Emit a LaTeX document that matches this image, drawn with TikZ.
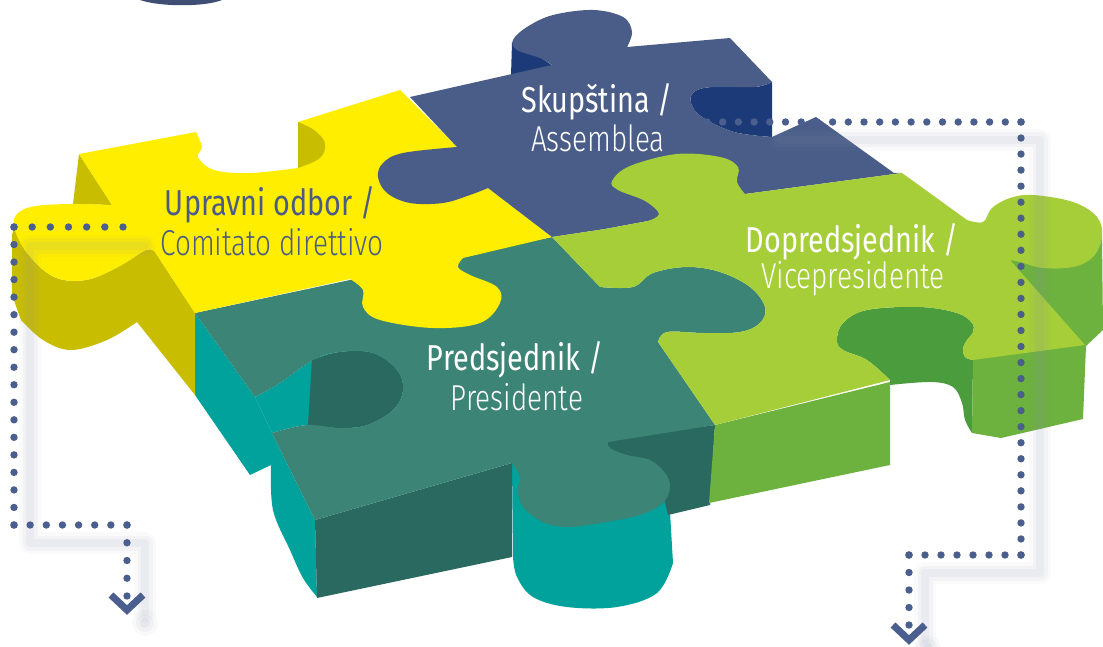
\documentclass[tikz,border=0pt]{standalone}
\usepackage{fontspec}
\newfontfamily\medf[FakeStretch=0.80]{Fira Sans}
\newfontfamily\lightf[FakeStretch=0.775]{Fira Sans Light}
\usetikzlibrary{calc}
\definecolor{ytop}{HTML}{FFEE00}
\definecolor{yside}{HTML}{C9BD00}
\definecolor{btop}{HTML}{4A5D88}
\definecolor{bside}{HTML}{1D3A78}
\definecolor{gtop}{HTML}{A6CE39}
\definecolor{gside}{HTML}{6DB13E}
\definecolor{ghole}{HTML}{4A9C3C}
\definecolor{ttop}{HTML}{3C8475}
\definecolor{tside}{HTML}{00A29B}
\definecolor{tdark}{HTML}{29695F}
\definecolor{dotc}{HTML}{4A5F8E}
\definecolor{txtb}{HTML}{4B5B86}
\definecolor{shad}{HTML}{8A93AE}
\newcommand\dotrow[5]{\foreach \i in {0,...,#5}{\fill[dotc] ($(#1,#2)!\i/#5!(#3,#4)$) circle[radius=3.7pt];}}
\tikzset{
  lineone/.style={font=\medf\fontsize{36}{42}\selectfont, anchor=base, inner sep=0pt},
  linetwo/.style={font=\lightf\fontsize{36}{42}\selectfont, anchor=base, inner sep=0pt},
  chev/.style={draw=dotc, line width=7pt, line join=miter},
  shadowline/.style={shad, line cap=round, line join=round},
  smo/.style={smooth, tension=0.6}
}
\begin{document}
\begin{tikzpicture}[x=1pt,y=-1pt]
\useasboundingbox (0,0) rectangle (1103,647);
\fill[white] (0,0) rectangle (1103,647);
\clip (0,0) rectangle (1103,647);
% top-left arc
\fill[btop!85!black] (140,0) .. controls (160,7) and (205,7) .. (222,0) -- cycle;
% ---------- side walls ----------
% teal
\fill[tside] (195,313) -- (255,397) -- (272,433) -- (315,520) -- (317,597) -- plot[smo] coordinates {(317,597) (303,578) (290,550) (273,510) (271,465)} -- (250,475) -- (195,395) -- cycle;
\fill[tside] plot[smo] coordinates {(255,397) (280,383) (313,360) (340,352) (373,353) (397,370) (403,390) (393,410) (367,425) (340,428) (307,425) (272,433)} -- cycle;
\fill[tdark] plot[smo] coordinates {(312,360) (340,352) (373,353) (397,370) (403,390) (393,410) (367,425) (340,428) (308,425)} -- cycle;
\fill[tside] (512,463) -- (668,478) -- (673,563) -- plot[smo] coordinates {(673,563) (657,593) (617,607) (567,607) (533,597) (517,577) (513,557)} -- cycle;
\fill[tdark] (315,520) -- (512,463) -- (512,557) -- (317,598) -- cycle;
\fill[tdark] (600,440) -- (715,425) -- (710,505) -- (668,515) -- (660,482) -- (600,475) -- cycle;
% yellow
\fill[yside] (79,154) -- (73,204) -- (112,205) -- cycle;
\fill[yside] plot[smo] coordinates {(14,227) (27,253) (54,277) (86,280) (118,267) (146,250) (155,252)} -- (195,313) -- (195,395) -- (137,322) -- plot[smo] coordinates {(137,322) (107,340) (71,350) (43,340) (21,320)} -- (12,295) -- (12,235) -- cycle;
% blue
\fill[bside] (512,42) -- (511,76) -- (553,66) -- (540,57) -- (520,49) -- cycle;
\fill[bside] plot[smo] coordinates {(772,82) (755,87) (712,87) (694,92) (691,103) (702,117) (734,132) (772,137)} -- cycle;
% green
\fill[gside] (715,425) -- (890,382) -- (890,465) -- (709,503) -- cycle;
\fill[ghole] (890,380) -- plot[smo] coordinates {(890,380) (867,360) (843,350) (837,340) (843,323) (867,310) (920,307) (957,313) (972,323) (973,332) (967,340) (963,348) (965,357) (973,360)} -- (972,433) -- plot[smo] coordinates {(972,433) (965,420) (962,403) (953,387) (931,382) (890,385)} -- cycle;
\fill[gside] (1010,258) -- (1102,237) -- (1103,330) -- (1086,346) -- (1083,419) -- (1001,438) -- (972,433) -- (973,360) -- cycle;
% ---------- top faces ----------
\fill[ttop] (195,313) -- (552,237) -- (600,287) -- plot[smo] coordinates {(600,287) (633,287) (653,273) (687,267) (720,272) (750,287) (765,307) (760,323) (740,332) (703,333) (667,332) (658,342)} -- (715,425) -- (608,442) -- plot[smo] coordinates {(608,442) (610,448) (627,455) (650,460) (665,473) (670,487) (663,503) (640,515) (600,523) (567,527) (543,522) (523,507) (518,490) (520,477) (512,463)} -- (315,520) -- (272,433) -- plot[smo] coordinates {(272,433) (307,425) (340,428) (367,425) (393,410) (403,390) (397,370) (373,353) (340,352) (313,360) (280,383) (255,397)} -- cycle;
\fill[ytop] (400,90) -- (457,147) -- (488,188) -- (552,237) -- (463,258) -- plot[smo] coordinates {(463,258) (458,267) (470,275) (497,287) (500,303) (480,323) (433,328) (380,320) (363,307) (363,290) (350,279)} -- (195,313) -- (155,252) -- plot[smo] coordinates {(155,252) (146,250) (118,267) (86,280) (54,277) (27,253) (14,227) (18,213) (36,206) (73,204) (112,205)} -- (79,154) -- (196,132) -- plot[smo] coordinates {(196,132) (202,147) (198,157) (214,170) (250,173) (298,168)} -- (298,122) -- cycle;
\fill[btop] (410,97) -- (552,65) -- plot[smo] coordinates {(552,65) (540,58) (517,50) (513,40) (527,27) (553,15) (593,10) (623,17) (632,32) (627,47)} -- (730,38) -- (772,82) -- plot[smo] coordinates {(772,82) (755,87) (712,87) (694,92) (691,103) (702,117) (734,132) (772,137)} -- (816,117) -- (894,173) -- (902,173) -- (745,194) -- (648,221) -- (605,229) -- (552,237) -- (488,188) -- plot[smo] coordinates {(488,188) (470,195) (443,203) (410,203) (387,193) (378,177) (383,163) (403,153) (457,147)} -- cycle;
\fill[gtop] (902,173) -- (967,220) -- plot[smo] coordinates {(967,220) (983,222) (992,208) (1010,198) (1033,195) (1073,202) (1097,217) (1102,237) (1093,257) (1073,267) (1043,268) (1020,262) (1010,260)} -- (1085,345) -- (973,360) -- plot[smo] coordinates {(973,360) (965,357) (963,348) (967,340) (973,332) (972,323) (957,313) (920,307) (867,310) (843,323) (837,340) (843,350) (867,360) (890,380)} -- (715,425) -- (658,342) -- plot[smo] coordinates {(658,342) (667,332) (703,333) (740,332) (760,323) (765,307) (750,287) (720,272) (687,267) (653,273) (633,287) (600,287)} -- (552,237) -- (605,229) -- (648,221) -- plot[smo] coordinates {(648,221) (659,214) (645,201) (618,190) (612,181) (630,166) (677,154) (720,157) (738,167) (737,182) (745,194)} -- cycle;
% yellow notch wall
\fill[yside] (298,122) -- plot[smo] coordinates {(298,122) (314,130) (325,143) (320,158) (298,168)} -- cycle;
% ---------- shadows ----------
\foreach \w/\o in {22/0.04,15/0.06,8/0.08}{
  \draw[shadowline, line width=\w pt, opacity=\o] (145,246) -- (30,246) -- (30,543) -- (145,543) -- (145,612);
  \draw[shadowline, line width=\w pt, opacity=\o] (780,140) -- (1040,140) -- (1040,573) -- (925,573) -- (925,640);
}
\foreach \r/\o in {13/0.05,9/0.07,5/0.09}{
  \fill[shad, opacity=\o] (145,623) circle[radius=\r pt];
  \fill[shad, opacity=\o] (928,648) circle[radius=\r pt];
}
% ---------- dotted connectors ----------
\dotrow{123}{227}{14}{227}{6}
\dotrow{14}{227}{14}{525}{17}
\dotrow{14}{525}{127}{525}{7}
\dotrow{127}{525}{127}{596}{4}
\draw[chev] (111,595) -- (127,610) -- (143,595);
\dotrow{707}{122}{1021}{122}{20}
\dotrow{1021}{122}{1021}{555}{27}
\dotrow{1021}{555}{909}{555}{7}
\dotrow{909}{555}{909}{625}{4}
\draw[chev] (893,625) -- (909,640) -- (925,625);
% ---------- labels ----------
\node[lineone, text=txtb] (upr1) at (270,216) {Upravni odbor /};
\node[linetwo, text=txtb] (upr2) at (272,255) {Comitato direttivo};
\node[lineone, text=white] (sku1) at (597,113) {Skupština /};
\node[linetwo, text=white] (sku2) at (598,152) {Assemblea};
\node[lineone, text=white] (dop1) at (852,252) {Dopredsjednik /};
\node[linetwo, text=white] (dop2) at (853,288) {Vicepresidente};
\node[lineone, text=white] (pre1) at (515,370) {Predsjednik /};
\node[linetwo, text=white] (pre2) at (517,410) {Presidente};
\end{tikzpicture}
\end{document}
